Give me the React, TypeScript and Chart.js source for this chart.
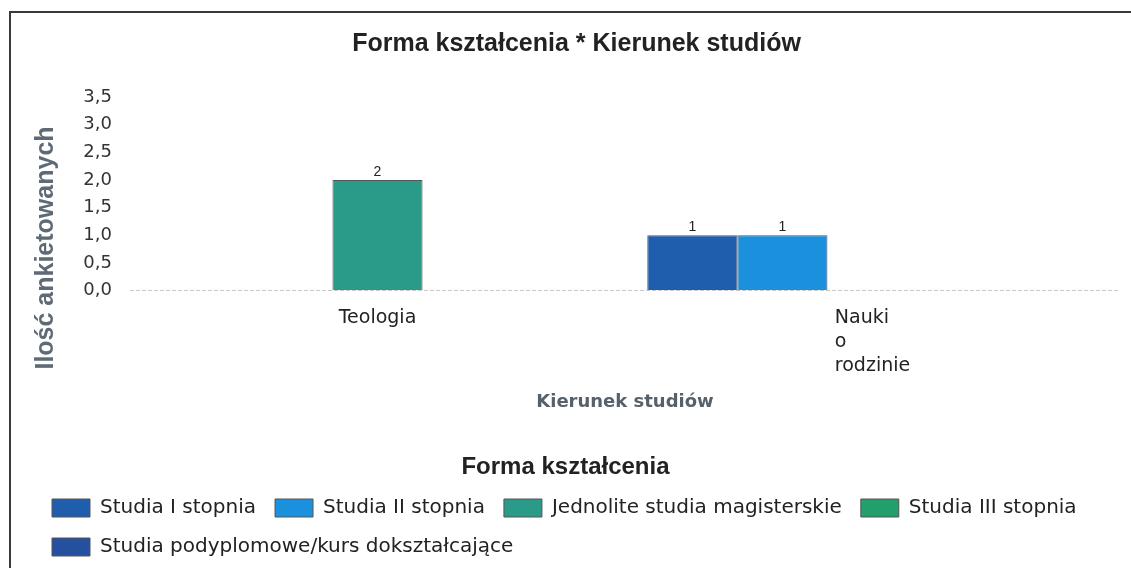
import React, { useEffect, useRef } from "react";
import { Chart, registerables } from "chart.js";

Chart.register(...registerables);

// ---- data ----
const categories: (string | string[])[] = ["Teologia", ["Nauki", "o", "rodzinie"]];
const seriesNames = [
  "Studia I stopnia",
  "Studia II stopnia",
  "Jednolite studia magisterskie",
  "Studia III stopnia",
  "Studia podyplomowe/kurs dokształcające",
];
const studiaI = [null, 1];
const studiaII = [null, 1];
const jednolite = [2, null];
const studiaIII = [null, null];
const podyplomowe = [null, null];
const seriesColors = ["#1f5eac", "#1b90dd", "#2a9a89", "#21a06b", "#25509f"];
const yMin = 0;
const yMax = 3.5;
const yStep = 0.5;
const chartTitle = "Forma kształcenia * Kierunek studiów";
const xTitle = "Kierunek studiów";
const yTitle = "Ilość ankietowanych";
const legendTitle = "Forma kształcenia";

const SANS = "'DejaVu Sans', Verdana, sans-serif";
const ARIAL = "'Liberation Sans', Arial, sans-serif";

const valueLabels = {
  id: "valueLabels",
  afterDatasetsDraw(chart: any) {
    const ctx = chart.ctx;
    ctx.save();
    ctx.font = `14px ${ARIAL}`;
    ctx.fillStyle = "#222";
    ctx.textAlign = "center";
    ctx.textBaseline = "bottom";
    chart.data.datasets.forEach((ds: any, i: number) => {
      const meta = chart.getDatasetMeta(i);
      meta.data.forEach((el: any, j: number) => {
        const v = ds.data[j];
        if (v == null || !isFinite(el.y)) return;
        ctx.fillText(String(v), el.x, el.y - 1);
      });
    });
    ctx.restore();
  },
};

const customText = {
  id: "customText",
  afterDraw(chart: any) {
    const ctx = chart.ctx;
    const xs = chart.scales.x;
    ctx.save();
    // x tick labels: block centred on tick, lines left-aligned
    ctx.font = `19px ${SANS}`;
    ctx.fillStyle = "#222";
    ctx.textAlign = "left";
    ctx.textBaseline = "middle";
    categories.forEach((lab, i) => {
      const lines = Array.isArray(lab) ? lab : [lab];
      const w = Math.max(...lines.map((l) => ctx.measureText(l).width));
      const x0 = xs.getPixelForTick(i) - w / 2;
      lines.forEach((l, j) => {
        ctx.fillText(l, x0, chart.chartArea.bottom + 15 + 12 + j * 24);
      });
    });
    // legend title centred on the canvas
    const lg = chart.legend;
    ctx.font = `bold 24px ${ARIAL}`;
    ctx.fillStyle = "#222";
    ctx.textAlign = "center";
    ctx.fillText(legendTitle, chart.width / 2, lg.top + 20 + 11.5);
    // y axis title
    ctx.translate(46, 248);
    ctx.rotate(-Math.PI / 2);
    ctx.font = `bold 25px ${ARIAL}`;
    ctx.fillStyle = "#5e6a75";
    ctx.textAlign = "center";
    ctx.textBaseline = "middle";
    ctx.fillText(yTitle, 0, 0);
    ctx.restore();
  },
};

export default function App() {
  const ref = useRef<HTMLCanvasElement | null>(null);

  useEffect(() => {
    document.body.style.margin = "0";
    const seriesData = [studiaI, studiaII, jednolite, studiaIII, podyplomowe];
    const chart = new Chart(ref.current as HTMLCanvasElement, {
      type: "bar",
      data: {
        labels: categories as any,
        datasets: seriesNames.map((name, i) => ({
          label: name,
          data: seriesData[i] as any,
          backgroundColor: seriesColors[i],
          borderColor: "#555",
          borderWidth: 1,
          barPercentage: 1,
          categoryPercentage: 0.91,
        })),
      },
      options: {
        responsive: false,
        animation: false,
        events: [],
        layout: { padding: { left: 33, right: 11, top: 0, bottom: 1 } },
        scales: {
          x: {
            grid: { display: false, drawTicks: false },
            border: { display: false },
            ticks: {
              color: "rgba(0,0,0,0)",
              font: { family: SANS, size: 19, lineHeight: 24 / 19 },
              padding: 15,
              maxRotation: 0,
              autoSkip: false,
            },
            title: {
              display: true,
              text: xTitle,
              color: "#56616b",
              font: { family: SANS, size: 18, weight: "bold", lineHeight: 20.4 / 18 },
              padding: { top: 0, bottom: 23 },
            },
          },
          y: {
            min: yMin,
            max: yMax,
            afterFit: (scale: any) => {
              scale.width = 97;
            },
            grid: {
              drawTicks: false,
              color: (c: any) => (c.tick && c.tick.value === 0 ? "#c8c8c8" : "rgba(0,0,0,0)"),
              lineWidth: 1,
            },
            border: { display: false, dash: [4, 2] },
            ticks: {
              stepSize: yStep,
              padding: 18,
              color: "#333",
              font: { family: SANS, size: 18 },
              callback: (v: any) => Number(v).toFixed(1).replace(".", ","),
            },
          },
        },
        plugins: {
          title: {
            display: true,
            text: chartTitle,
            color: "#222",
            font: { family: ARIAL, size: 25, weight: "bold", lineHeight: 1.2 },
            padding: { top: 29, bottom: 38 },
          },
          legend: {
            display: true,
            position: "bottom",
            align: "start",
            title: {
              display: true,
              text: legendTitle,
              color: "rgba(0,0,0,0)",
              font: { family: ARIAL, size: 23, weight: "bold", lineHeight: 1 },
              padding: { top: 20, bottom: 0 },
            },
            labels: {
              boxWidth: 38,
              boxHeight: 18,
              padding: 19,
              color: "#222",
              font: { family: SANS, size: 20 },
            },
          },
          tooltip: { enabled: false },
        },
      },
      plugins: [valueLabels, customText],
    } as any);
    return () => chart.destroy();
  }, []);

  return (
    <div style={{ position: "relative", width: 1131, height: 568, overflow: "hidden", background: "#fff" }}>
      <div
        style={{
          position: "absolute",
          left: 9,
          top: 11,
          width: 1200,
          height: 700,
          borderLeft: "2px solid #3a3a3a",
          borderTop: "2px solid #3a3a3a",
        }}
      />
      <canvas ref={ref} width={1131} height={568} style={{ position: "absolute", left: 0, top: 0 }} />
    </div>
  );
}
